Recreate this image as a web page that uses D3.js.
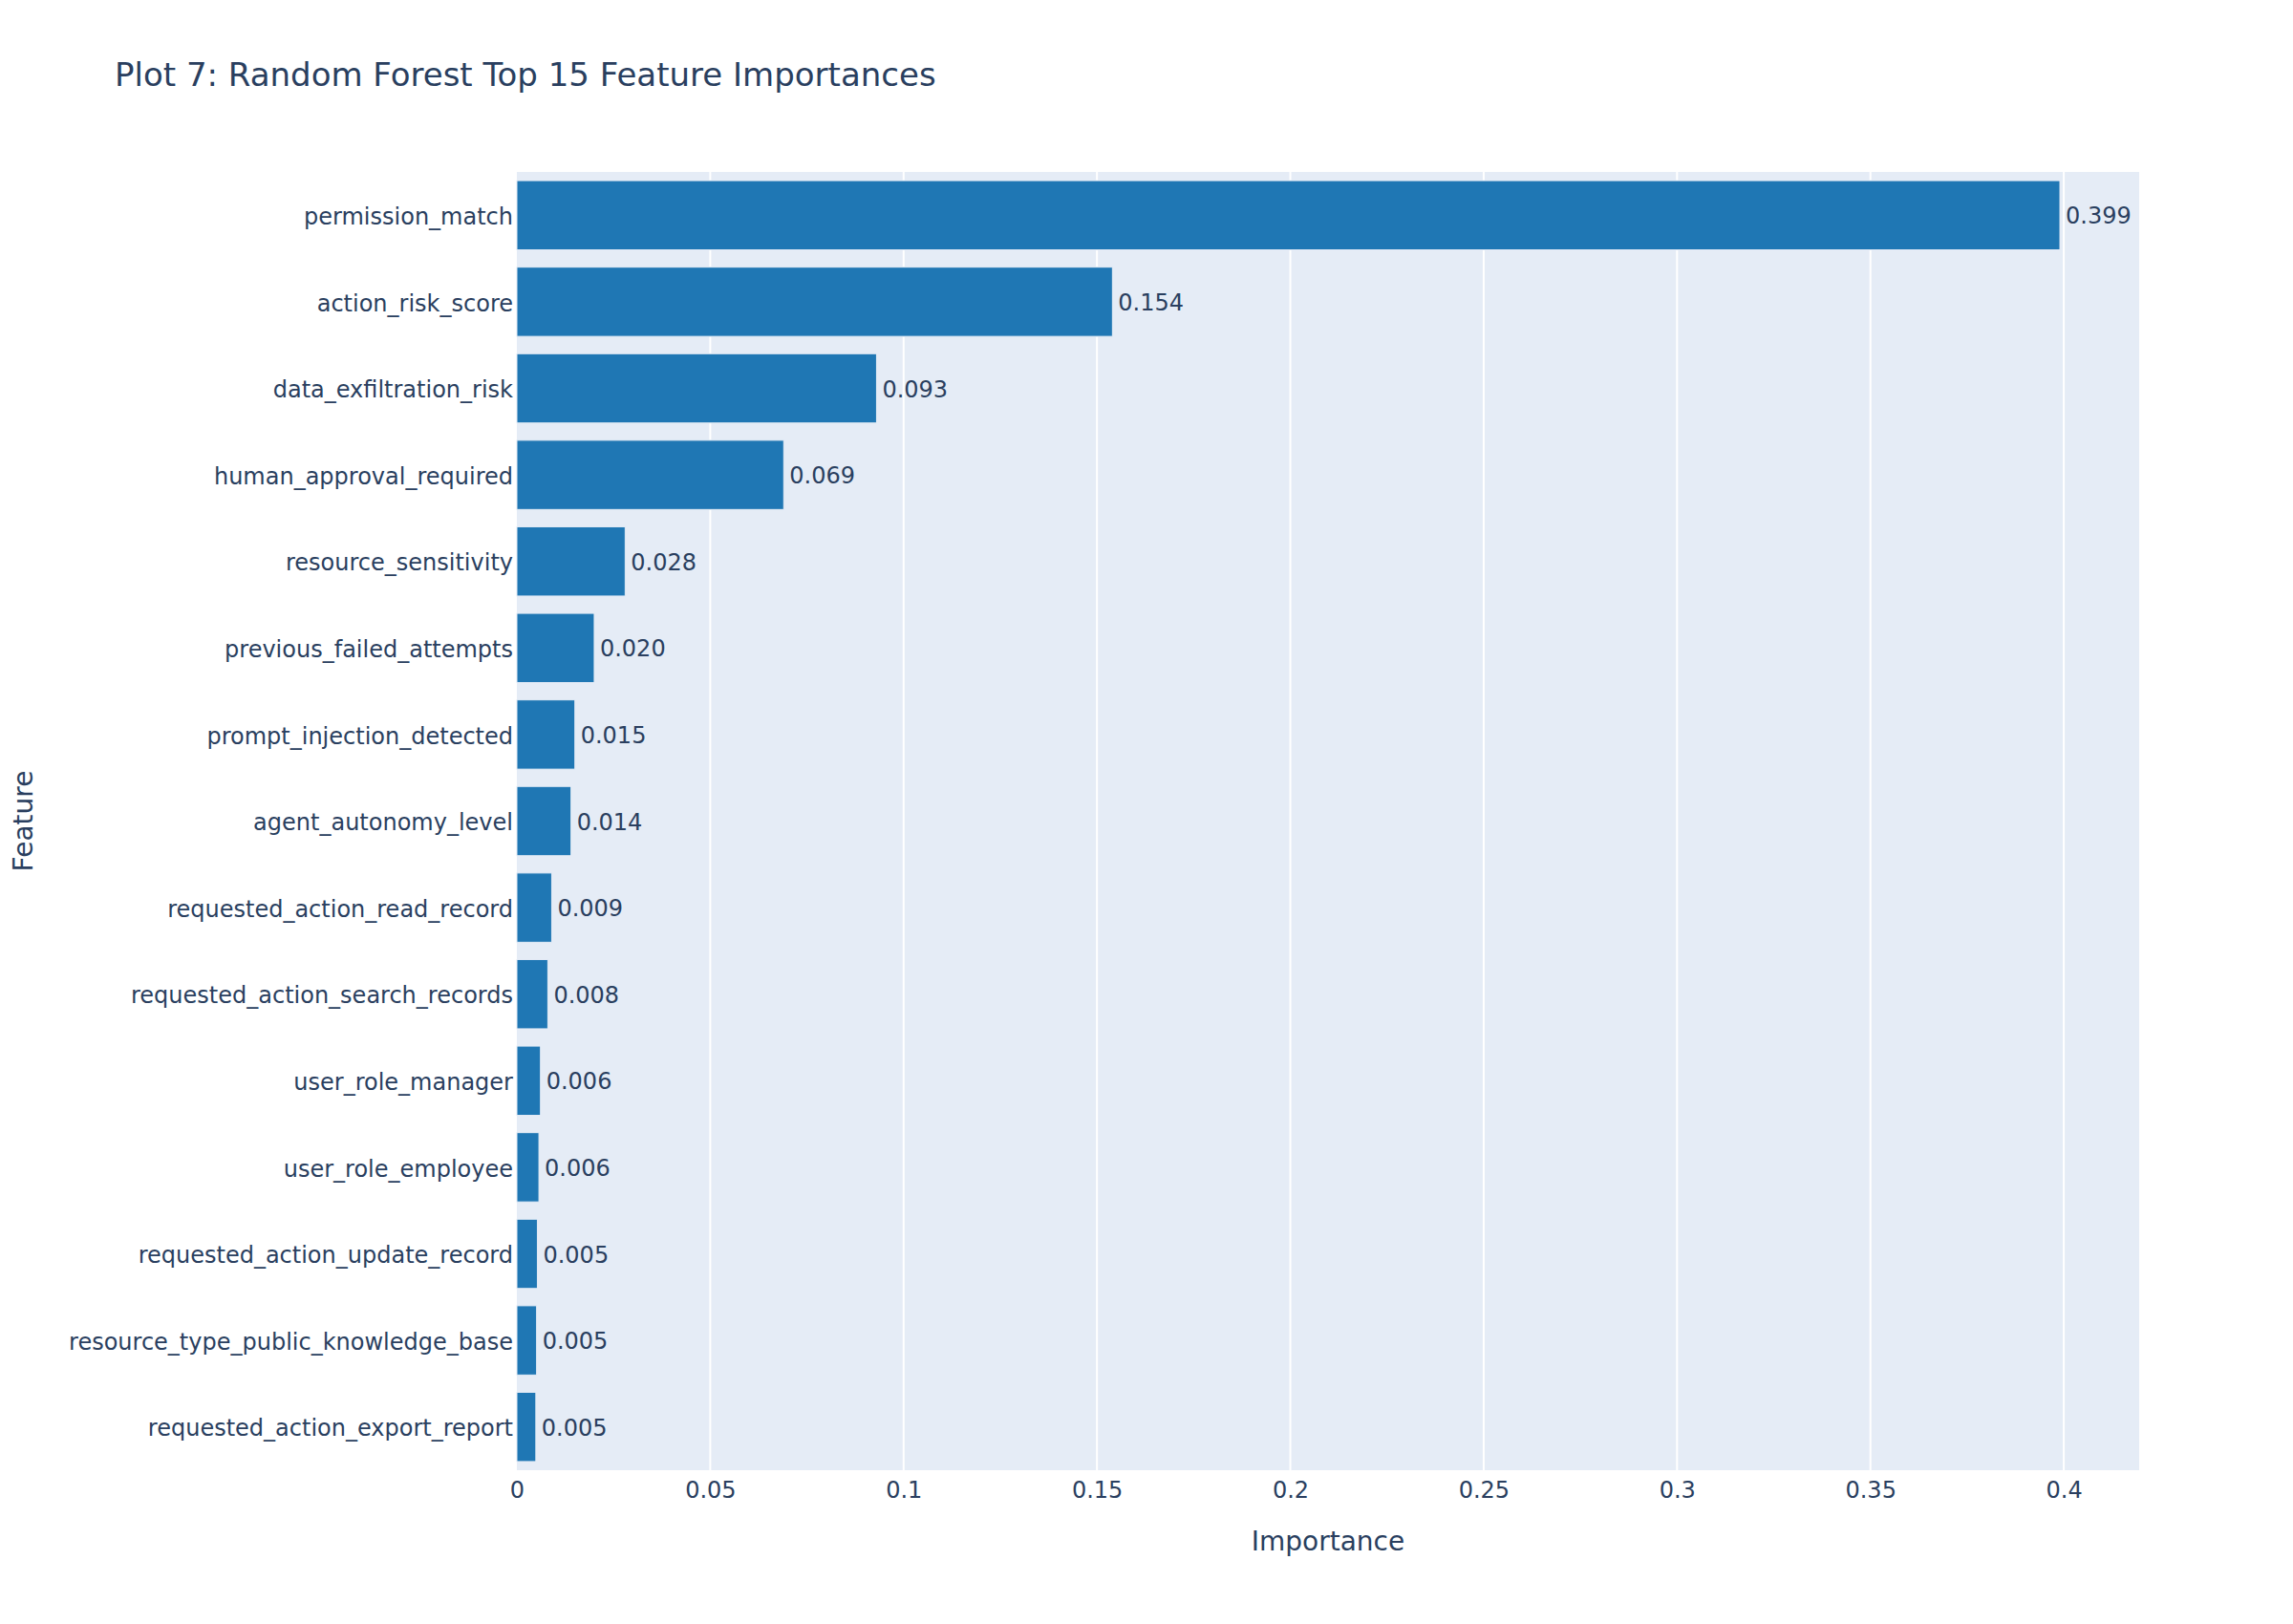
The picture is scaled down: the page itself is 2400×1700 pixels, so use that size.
<!DOCTYPE html>
<html>
<head>
<meta charset="utf-8">
<script src="https://cdn.jsdelivr.net/npm/d3@7"></script>
<style>
  html, body { margin: 0; padding: 0; background: #fff; }
  text { font-family: "DejaVu Sans", Verdana, sans-serif; fill: #2a3f5f; }
</style>
</head>
<body>
<svg id="chart" width="2400" height="1700"></svg>
<script>
const features = [
  "permission_match",
  "action_risk_score",
  "data_exfiltration_risk",
  "human_approval_required",
  "resource_sensitivity",
  "previous_failed_attempts",
  "prompt_injection_detected",
  "agent_autonomy_level",
  "requested_action_read_record",
  "requested_action_search_records",
  "user_role_manager",
  "user_role_employee",
  "requested_action_update_record",
  "resource_type_public_knowledge_base",
  "requested_action_export_report"
];
const importances = [0.399, 0.154, 0.093, 0.069, 0.028, 0.020, 0.015, 0.014, 0.009, 0.008, 0.0061, 0.0057, 0.0053, 0.0051, 0.0049];
const xTicks = [0, 0.05, 0.1, 0.15, 0.2, 0.25, 0.3, 0.35, 0.4];
const xTickLabels = ["0", "0.05", "0.1", "0.15", "0.2", "0.25", "0.3", "0.35", "0.4"];
const titleText = "Plot 7: Random Forest Top 15 Feature Importances";
const xTitle = "Importance";
const yTitle = "Feature";

const W = 2400, H = 1700;
const m = { left: 541, right: 161, top: 180, bottom: 161 };
const pw = W - m.left - m.right, ph = H - m.top - m.bottom;

const svg = d3.select("#chart");

svg.append("text")
  .attr("x", 120).attr("y", 90)
  .attr("font-size", 34)
  .text(titleText);

const g = svg.append("g").attr("transform", `translate(${m.left},${m.top})`);

const x = d3.scaleLinear().domain([0, 0.4195]).range([0, pw]);
const y = d3.scaleBand().domain(features).range([0, ph]).paddingInner(0.2).paddingOuter(0.1);

g.append("rect").attr("width", pw).attr("height", ph).attr("fill", "#E5ECF6");

// gridlines
g.selectAll("line.grid").data(xTicks.filter(d => d > 0)).join("line")
  .attr("class", "grid")
  .attr("x1", d => x(d)).attr("x2", d => x(d))
  .attr("y1", 0).attr("y2", ph)
  .attr("stroke", "#ffffff").attr("stroke-width", 2);

const data = features.map((f, i) => ({ f, v: importances[i] }));

g.selectAll("rect.bar").data(data).join("rect")
  .attr("class", "bar")
  .attr("x", x(0))
  .attr("y", d => y(d.f))
  .attr("width", d => x(d.v) - x(0))
  .attr("height", y.bandwidth())
  .attr("fill", "#1f77b4")
  .attr("stroke", "#E5ECF6").attr("stroke-width", 1);

const fmt = d3.format(".3f");
g.selectAll("text.val").data(data).join("text")
  .attr("class", "val")
  .attr("x", d => x(d.v) + 6)
  .attr("y", d => y(d.f) + y.bandwidth() / 2)
  .attr("dy", "0.38em")
  .attr("font-size", 24)
  .text(d => fmt(d.v));

// x axis
const xAxis = g.append("g").attr("transform", `translate(0,${ph})`)
  .call(d3.axisBottom(x).tickValues(xTicks).tickFormat((d, i) => xTickLabels[i]).tickSize(0).tickPadding(12));
xAxis.select(".domain").remove();
xAxis.selectAll("text").attr("font-size", 24).style("fill", "#2a3f5f")
  .attr("font-family", "DejaVu Sans, Verdana, sans-serif");

// y axis
const yAxis = g.append("g")
  .call(d3.axisLeft(y).tickSize(0).tickPadding(4));
yAxis.select(".domain").remove();
yAxis.selectAll("text").attr("font-size", 24).attr("dy", "0.4em").style("fill", "#2a3f5f")
  .attr("font-family", "DejaVu Sans, Verdana, sans-serif");

// axis titles
svg.append("text")
  .attr("x", m.left + pw / 2).attr("y", 1623)
  .attr("text-anchor", "middle")
  .attr("font-size", 28)
  .text(xTitle);

svg.append("text")
  .attr("transform", `translate(34,${m.top + ph / 2}) rotate(-90)`)
  .attr("text-anchor", "middle")
  .attr("font-size", 28)
  .text(yTitle);
</script>
</body>
</html>
